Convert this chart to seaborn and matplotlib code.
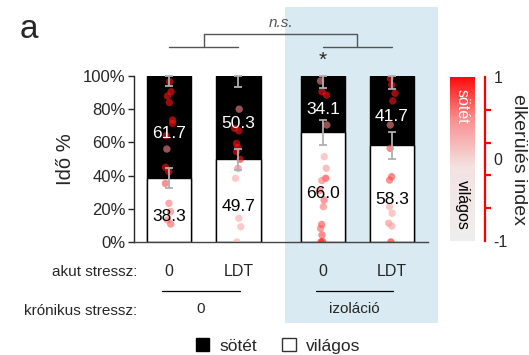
import numpy as np
import pandas as pd
import matplotlib
matplotlib.use("Agg")
import matplotlib.pyplot as plt
import matplotlib as mpl
from matplotlib.patches import Rectangle, Patch
from matplotlib.transforms import blended_transform_factory
from matplotlib.colors import LinearSegmentedColormap, Normalize
import seaborn as sns

sns.set_style("ticks")
plt.rcParams['font.family'] = ['Liberation Sans', 'DejaVu Sans']

# ---------------- data ----------------
groups = ["0 / 0", "LDT / 0", "0 / izoláció", "LDT / izoláció"]
group_pos = [0.0, 1.0, 2.22, 3.22]
acute_labels = ["0", "LDT", "0", "LDT"]
dark_pct = [61.7, 50.3, 34.1, 41.7]
light_pct = [38.3, 49.7, 66.0, 58.3]
sem_pct = [6.0, 6.6, 7.5, 8.0]

pts_g1 = [96.6, 90.5, 88.0, 84.0, 73.5, 71.5, 64.0, 56.0, 45.0, 42.4, 35.3, 23.3, 18.3, 13.3, 10.8]
idx_g1 = [0.95, 0.95, 0.95, 0.95, 0.95, 0.95, 0.9, 0.5, 0.95, 0.95, 0.75, 0.6, 0.6, 0.6, 0.7]
pts_g2 = [80.0, 68.5, 67.0, 59.4, 57.0, 54.4, 49.8, 44.4, 38.4, 14.3, 9.2, 0.0]
idx_g2 = [0.5, 0.95, 0.95, 0.95, 0.95, 0.95, 0.9, 0.6, 0.3, 0.3, 0.3, 0.3]
pts_g3 = [97.0, 90.5, 88.5, 70.5, 51.4, 44.4, 38.4, 37.0, 31.0, 25.3, 21.3, 10.6, 8.2, 4.2, 0.2, 0.0]
idx_g3 = [0.5, 0.95, 0.95, 0.5, 0.3, 0.45, 0.85, 0.6, 0.7, 0.7, 0.6, 0.75, 0.7, 0.8, 0.95, 0.95]
pts_g4 = [98.6, 94.6, 89.6, 85.0, 70.5, 56.4, 39.4, 37.3, 21.3, 17.3, 11.3, 9.6, 0.0]
idx_g4 = [0.95, 0.95, 0.95, 0.95, 0.5, 0.8, 0.8, 0.75, 0.3, 0.35, 0.5, 0.4, 0.95]

all_pts = [pts_g1, pts_g2, pts_g3, pts_g4]
all_idx = [idx_g1, idx_g2, idx_g3, idx_g4]

bars = pd.DataFrame({"pos": group_pos, "dark": dark_pct, "light": light_pct,
                     "total": [d + l for d, l in zip(dark_pct, light_pct)]})
pts = pd.DataFrame({
    "pos": np.concatenate([[p] * len(v) for p, v in zip(group_pos, all_pts)]),
    "val": np.concatenate(all_pts),
    "idx": np.concatenate(all_idx),
})

W, H = 529, 355
fig = plt.figure(figsize=(W / 100, H / 100), dpi=100)

def fx(px):
    return px / W

def fy(py):
    return 1 - py / H

# blue background
fig.patches.append(Rectangle((fx(285), fy(323)), fx(438) - fx(285), fy(7) - fy(323),
                             transform=fig.transFigure, facecolor="#d9eaf2",
                             edgecolor="none", zorder=-5))

ax = fig.add_axes([fx(134), fy(242), fx(428) - fx(134), fy(76) - fy(242)])
ax.patch.set_alpha(0)

cmap = LinearSegmentedColormap.from_list(
    "avoid", [(0, "#eeeeee"), (0.45, "#f3e2e2"), (0.75, "#fb8c8c"), (1, "#ff0a0a")])
norm = Normalize(-1, 1)

# stacked bars: full black then white overlay
sns.barplot(data=bars, x="pos", y="total", native_scale=True, color="black",
            saturation=1, width=0.64, edgecolor="black", linewidth=1,
            errorbar=None, ax=ax)
sns.barplot(data=bars, x="pos", y="light", native_scale=True, color="white",
            saturation=1, width=0.64, edgecolor="black", linewidth=1,
            errorbar=None, ax=ax)

np.random.seed(3)
sns.stripplot(data=pts, x="pos", y="val", hue="idx", palette=cmap, hue_norm=(-1, 1),
              native_scale=True, jitter=0.06, size=5.3, alpha=0.6, linewidth=0,
              legend=False, ax=ax, zorder=3)

# error bars
ax.errorbar(group_pos, light_pct, yerr=sem_pct, fmt="none", ecolor="#b0b0b0",
            elinewidth=1.3, capsize=3, capthick=1.3, zorder=4)
ax.errorbar(group_pos, bars["total"], yerr=[sem_pct, [0] * 4], fmt="none",
            ecolor="#b0b0b0", elinewidth=1.3, capsize=3, capthick=1.3, zorder=4,
            clip_on=False)

# values in bars
for p, d, l in zip(group_pos, dark_pct, light_pct):
    ax.text(p, l + d / 2 - 3.5, f"{d:.1f}", color="white", ha="center", va="center",
            fontsize=12.5, zorder=5)
    ax.text(p, l / 2 - 3.5, f"{l:.1f}", color="black", ha="center", va="center",
            fontsize=12.5, zorder=5)

ax.set_xlim(-0.51, 3.74)
ax.set_ylim(0, 100)
ax.set_yticks([0, 20, 40, 60, 80, 100])
ax.set_yticklabels([f"{v}%" for v in [0, 20, 40, 60, 80, 100]], fontsize=12)
ax.set_xticks([])
ax.set_xlabel("")
ax.set_ylabel("Idő %", fontsize=14.5, labelpad=6)
sns.despine(ax=ax, top=True, right=True)
ax.spines["left"].set_linewidth(1)
ax.spines["bottom"].set_linewidth(1)
ax.spines["bottom"].set_color("#444444")
ax.tick_params(axis="y", length=4, width=1, pad=2)

# significance brackets
gray = "#555555"
ax.plot([group_pos[0], group_pos[1]], [117.5, 117.5], color=gray, lw=1, clip_on=False)
ax.plot([group_pos[2], group_pos[3]], [117.5, 117.5], color=gray, lw=1, clip_on=False)
m1 = (group_pos[0] + group_pos[1]) / 2
m2 = (group_pos[2] + group_pos[3]) / 2
ax.plot([m1, m1, m2, m2], [117.5, 125.5, 125.5, 117.5], color=gray, lw=1, clip_on=False)
ax.text((m1 + m2) / 2, 128, "n.s.", style="italic", color=gray, ha="center",
        va="bottom", fontsize=11)
ax.text(group_pos[2], 104, "*", ha="center", va="bottom", fontsize=15)

# bottom labels
tr = blended_transform_factory(ax.transData, fig.transFigure)
fig.text(fx(137), fy(272), "akut stressz:", ha="right", va="center", fontsize=11)
fig.text(fx(137), fy(311), "krónikus stressz:", ha="right", va="center", fontsize=11)
for p, lab in zip(group_pos, acute_labels):
    ax.text(p, fy(272), lab, transform=tr, ha="center", va="center", fontsize=11.5)
for a, b, lab in [(0, 1, "0"), (2, 3, "izoláció")]:
    ax.plot([group_pos[a] - 0.1, group_pos[b] + 0.02], [fy(291), fy(291)], transform=tr,
            color="black", lw=0.9, clip_on=False)
    ax.text((group_pos[a] + group_pos[b]) / 2 - 0.05, fy(309), lab, transform=tr,
            ha="center", va="center", fontsize=11)

# colorbar
cax = fig.add_axes([fx(450), fy(241), fx(475) - fx(450), fy(77) - fy(241)])
cb = mpl.colorbar.ColorbarBase(cax, cmap=cmap, norm=norm, orientation="vertical")
cb.outline.set_visible(False)
cax.set_yticks([])
cax.text(0.5, 0.82, "sötét", rotation=270, color="white", ha="center", va="center",
         fontsize=11.5, transform=cax.transAxes)
cax.text(0.5, 0.22, "világos", rotation=270, color="black", ha="center", va="center",
         fontsize=11.5, transform=cax.transAxes)

rax = fig.add_axes([fx(484), fy(241), fx(485) - fx(484), fy(77) - fy(241)])
rax.patch.set_alpha(0)
for s in ["left", "top", "bottom"]:
    rax.spines[s].set_visible(False)
rax.spines["right"].set_color("red")
rax.spines["right"].set_linewidth(1.6)
rax.set_xticks([])
rax.set_ylim(-1, 1)
rax.yaxis.tick_right()
rax.set_yticks([-1, 0, 1])
rax.set_yticklabels(["-1", "0", "1"], fontsize=11.5)
rax.set_yticks([-1, -0.6, -0.2, 0.2, 0.6, 1], minor=True)
rax.tick_params(axis="y", which="major", length=0, pad=6)
rax.tick_params(axis="y", which="minor", length=4, width=1.6, color="red")
rax.set_ylabel("elkerülés index", rotation=270, fontsize=14, labelpad=14)
rax.yaxis.set_label_position("right")

# legend
handles = [Patch(facecolor="black", edgecolor="black", label="sötét"),
           Patch(facecolor="white", edgecolor="#333333", label="világos")]
fig.legend(handles=handles, loc="center", bbox_to_anchor=(fx(278), fy(346)), ncol=2,
           frameon=False, fontsize=12.5, handlelength=0.8, handleheight=0.8,
           columnspacing=1.4, handletextpad=0.6)

fig.text(fx(20), fy(30), "a", fontsize=24, ha="left", va="center")

fig.savefig("out.png", dpi=100)
